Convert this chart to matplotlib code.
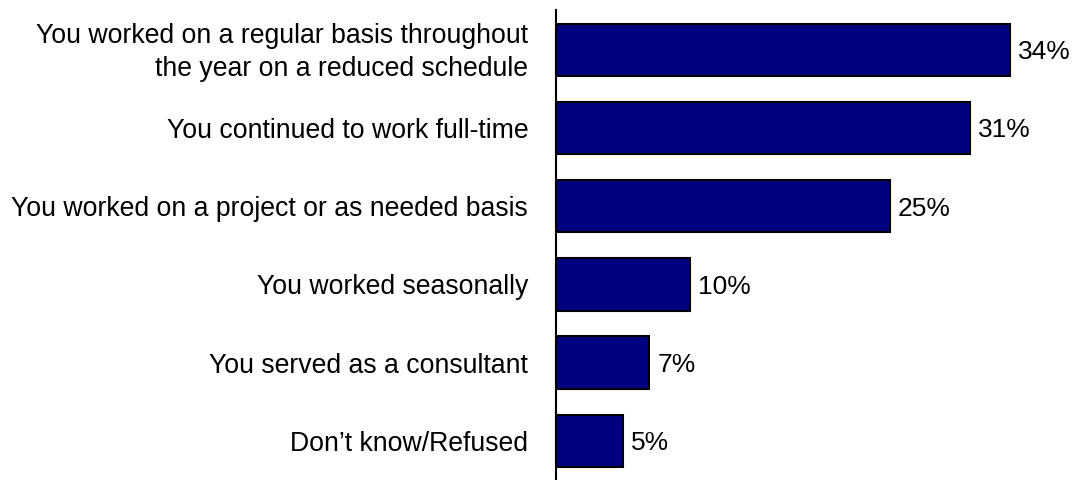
import matplotlib
matplotlib.use("Agg")
import matplotlib.pyplot as plt
from matplotlib.transforms import ScaledTranslation

categories = [
    "You worked on a regular basis throughout\nthe year on a reduced schedule",
    "You continued to work full-time",
    "You worked on a project or as needed basis",
    "You worked seasonally",
    "You served as a consultant",
    "Don\u2019t know/Refused",
]
values = [34, 31, 25, 10, 7, 5]
value_labels = ["34%", "31%", "25%", "10%", "7%", "5%"]

plt.rcParams["font.family"] = ["Liberation Sans", "DejaVu Sans"]

fig = plt.figure(figsize=(10.75, 4.8), dpi=100)
ax = fig.add_axes([556 / 1075, 0.0, 1 - 556 / 1075, 470 / 480])

y = list(range(len(categories)))
ax.barh(y, values, height=0.67, color="#000080", edgecolor="black", linewidth=1.5, zorder=2)

for yi, v, lab in zip(y, values, value_labels):
    ax.text(v + 0.6, yi + 0.03, lab, va="center", ha="left", fontsize=19, color="black")

ax.set_xlim(0, 519 / 13.35)
ax.set_ylim(5.5, -0.51)

ax.set_yticks(y)
ax.set_yticklabels(categories, fontsize=19.2, linespacing=1.38)
ax.tick_params(axis="y", length=0, pad=20)
ax.set_xticks([])

# nudge the two-line label up slightly
first = ax.get_yticklabels()[0]
first.set_transform(first.get_transform() + ScaledTranslation(0, 4 / 100, fig.dpi_scale_trans))

for side in ["top", "right", "bottom"]:
    ax.spines[side].set_visible(False)
ax.spines["left"].set_linewidth(1.5)
ax.spines["left"].set_zorder(3)

fig.savefig("out.png", dpi=100)
